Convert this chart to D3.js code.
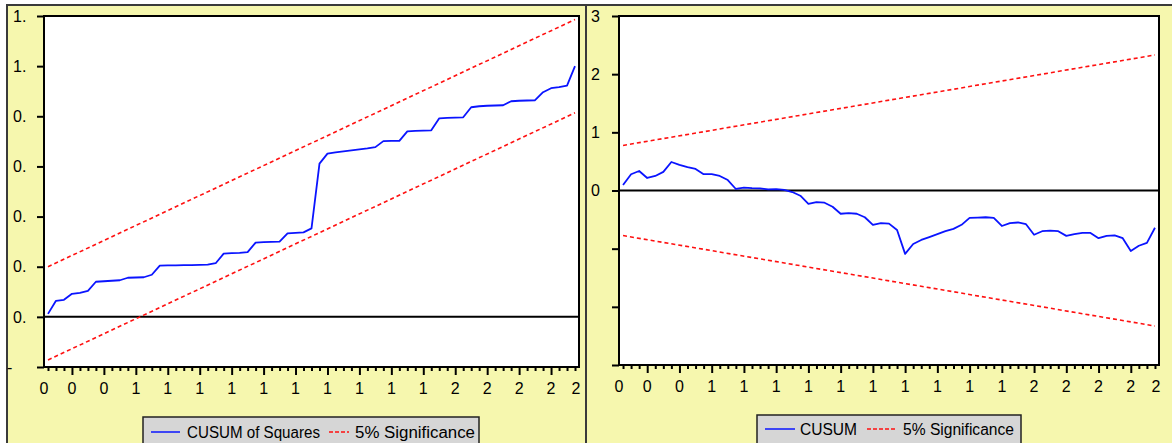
<!DOCTYPE html>
<html><head><meta charset="utf-8">
<script src="https://cdn.jsdelivr.net/npm/d3@7"></script>
<style>
html,body{margin:0;padding:0;background:#fff;}
svg{display:block;}
text{font-family:"Liberation Sans",Arial,sans-serif;fill:#000;}
</style></head><body>
<script>
// ---------- data ----------
const obs = d3.range(67);
const cusumSq = [0.012,0.064,0.068,0.092,0.096,0.104,0.140,0.142,0.144,0.146,
  0.156,0.157,0.158,0.168,0.204,0.205,0.205,0.206,0.206,0.207,
  0.208,0.214,0.252,0.254,0.255,0.258,0.296,0.298,0.299,0.300,
  0.333,0.335,0.337,0.353,0.611,0.651,0.656,0.660,0.664,0.668,
  0.672,0.677,0.701,0.702,0.702,0.740,0.742,0.743,0.744,0.792,
  0.794,0.795,0.796,0.836,0.840,0.842,0.843,0.844,0.860,0.862,
  0.863,0.864,0.896,0.912,0.916,0.922,1.000];
const cusumSqBandObs = [0, 66];
const cusumSqUpper = [0.200, 1.186];
const cusumSqLower = [-0.172, 0.814];

const cusum = [0.095,0.28,0.335,0.215,0.25,0.32,0.49,0.44,0.40,0.37,
  0.28,0.28,0.25,0.18,0.026,0.05,0.04,0.035,0.02,0.025,
  0.01,-0.026,-0.09,-0.23,-0.20,-0.21,-0.28,-0.40,-0.39,-0.40,
  -0.46,-0.59,-0.56,-0.57,-0.68,-1.09,-0.92,-0.85,-0.80,-0.75,
  -0.70,-0.66,-0.59,-0.47,-0.465,-0.46,-0.47,-0.61,-0.56,-0.55,
  -0.58,-0.76,-0.70,-0.69,-0.70,-0.78,-0.75,-0.73,-0.73,-0.82,
  -0.78,-0.77,-0.82,-1.04,-0.95,-0.90,-0.64];
const cusumBandObs = [0, 66];
const cusumUpper = [0.775, 2.33];
const cusumLower = [-0.775, -2.33];

const xLabelObs = [-1,3,7,11,15,19,23,27,31,35,39,43,47,51,55,59,63,67];
const xTickLabels = ["0","0","0","1","1","1","1","1","1","1","1","1","1","2","2","2","2","2"];
const leftYTicks = [-0.2,0,0.2,0.4,0.6,0.8,1.0,1.2];
const leftYLabels = ["-","0.","0.","0.","0.","0.","1.","1."];
const rightYTicks = [-3,-2,-1,0,1,2,3];
const rightYLabels = ["","","","0","1","2","3"];
const legendLeft = ["CUSUM of Squares","5% Significance"];
const legendRight = ["CUSUM","5% Significance"];

// ---------- drawing ----------
const W = 1172, H = 443;
const svg = d3.select("body").append("svg").attr("width",W).attr("height",H);
const BG = "#F6F7AE";

svg.append("rect").attr("x",0).attr("y",0).attr("width",W).attr("height",H).attr("fill","#fff");
svg.append("rect").attr("x",7).attr("y",5).attr("width",W).attr("height",H).attr("fill",BG)
  .attr("stroke","#3a3a3a").attr("stroke-width",2);
svg.append("line").attr("x1",586).attr("x2",586).attr("y1",5).attr("y2",H)
  .attr("stroke","#3a3a3a").attr("stroke-width",2);

function panel(cfg){
  const g = svg.append("g");
  const x = d3.scaleLinear().domain([-0.5,66.5]).range([cfg.x0,cfg.x1]);
  const y = d3.scaleLinear().domain(cfg.yDomain).range([cfg.y1,cfg.y0]);
  g.append("rect").attr("x",cfg.x0).attr("y",cfg.y0).attr("width",cfg.x1-cfg.x0)
    .attr("height",cfg.y1-cfg.y0).attr("fill","#fff");

  // zero line
  g.append("line").attr("x1",cfg.x0).attr("x2",cfg.x1).attr("y1",y(0)).attr("y2",y(0))
    .attr("stroke","#000").attr("stroke-width",2);

  // bands
  const band = d3.line().x(d=>x(d[0])).y(d=>y(d[1]));
  [cfg.upper,cfg.lower].forEach(b=>{
    g.append("path").attr("d",band(cfg.bandObs.map((o,i)=>[o,b[i]])))
      .attr("fill","none").attr("stroke","#FF1010").attr("stroke-width",1.6)
      .attr("stroke-dasharray","4,3");
  });
  // series
  g.append("path").attr("d",d3.line().x((d,i)=>x(obs[i])).y(d=>y(d))(cfg.series))
    .attr("fill","none").attr("stroke","#0A14FF").attr("stroke-width",1.8)
    .attr("stroke-linejoin","round");

  // frame
  g.append("rect").attr("x",cfg.x0).attr("y",cfg.y0).attr("width",cfg.x1-cfg.x0)
    .attr("height",cfg.y1-cfg.y0).attr("fill","none").attr("stroke","#000").attr("stroke-width",2);

  // y axis ticks
  const ya = g.append("g").attr("transform",`translate(${cfg.x0},0)`)
    .call(d3.axisLeft(y).tickValues(cfg.yTicks).tickSize(7).tickFormat(""));
  ya.select(".domain").remove();
  ya.selectAll("line").attr("stroke","#000").attr("stroke-width",2);
  g.selectAll(".ylab").data(cfg.yTicks).enter().append("text")
    .attr("x",(d,i)=>cfg.yLabels[i]==="-"?cfg.labX-6:cfg.labX).attr("y",d=>y(d))
    .attr("dy","0.36em").attr("font-size",16).text((d,i)=>cfg.yLabels[i]);

  // x axis ticks
  const minor = obs.filter(o=>(o+1)%4!==0);
  const major = obs.filter(o=>(o+1)%4===0);
  const xa1 = g.append("g").attr("transform",`translate(0,${cfg.y1})`)
    .call(d3.axisBottom(x).tickValues(minor).tickSize(4).tickFormat(""));
  xa1.select(".domain").remove();
  xa1.selectAll("line").attr("stroke","#000").attr("stroke-width",2);
  const xa2 = g.append("g").attr("transform",`translate(0,${cfg.y1})`)
    .call(d3.axisBottom(x).tickValues(major).tickSize(8).tickFormat(""));
  xa2.select(".domain").remove();
  xa2.selectAll("line").attr("stroke","#000").attr("stroke-width",2);
  g.selectAll(".xlab").data(xLabelObs).enter().append("text")
    .attr("x",d=>Math.max(cfg.x0,Math.min(cfg.x1-3,x(d))))
    .attr("y",cfg.y1+27).attr("text-anchor","middle").attr("font-size",16)
    .text((d,i)=>xTickLabels[i]);

  // legend
  const L = cfg.legend;
  g.append("rect").attr("x",L.x).attr("y",L.y).attr("width",L.w).attr("height",40)
    .attr("fill","#D6D6D6").attr("stroke","#222").attr("stroke-width",1.5);
  g.append("line").attr("x1",L.b1).attr("x2",L.b1+L.s1).attr("y1",L.ly).attr("y2",L.ly)
    .attr("stroke","#0A14FF").attr("stroke-width",1.5);
  g.append("text").attr("x",L.t1).attr("y",L.ly+6).attr("font-size",16)
    .attr("textLength",L.t1w).attr("lengthAdjust","spacingAndGlyphs").text(L.names[0]);
  g.append("line").attr("x1",L.b2).attr("x2",L.b2+L.s2).attr("y1",L.ly).attr("y2",L.ly)
    .attr("stroke","#FF1010").attr("stroke-width",1.5).attr("stroke-dasharray","4,2");
  g.append("text").attr("x",L.t2).attr("y",L.ly+6).attr("font-size",16)
    .attr("textLength",L.t2w).attr("lengthAdjust","spacingAndGlyphs").text(L.names[1]);
}

panel({x0:44,x1:579,y0:16,y1:367,yDomain:[-0.2,1.2],series:cusumSq,
  bandObs:cusumSqBandObs,upper:cusumSqUpper,lower:cusumSqLower,
  yTicks:leftYTicks,yLabels:leftYLabels,labX:13,
  legend:{x:143,y:417,w:336,ly:432,b1:151,s1:29,t1:187,t1w:133,b2:329,s2:20,t2:355,t2w:120,names:legendLeft}});
panel({x0:619,x1:1159,y0:16,y1:365,yDomain:[-3,3],series:cusum,
  bandObs:cusumBandObs,upper:cusumUpper,lower:cusumLower,
  yTicks:rightYTicks,yLabels:rightYLabels,labX:591,
  legend:{x:757,y:415,w:264,ly:429,b1:765,s1:30,t1:800,t1w:57,b2:867,s2:30,t2:903,t2w:111,names:legendRight}});
</script>
</body></html>
